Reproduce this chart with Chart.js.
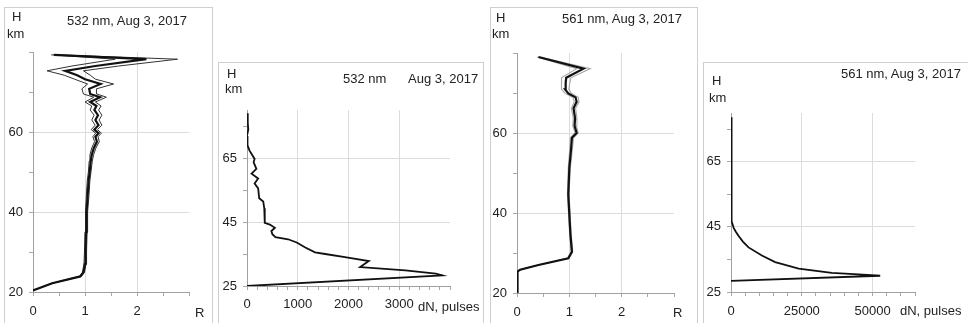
<!DOCTYPE html>
<html>
<head>
<meta charset="utf-8">
<script src="https://cdn.jsdelivr.net/npm/chart.js@4.4.1/dist/chart.umd.min.js"></script>
<style>
  html, body { margin: 0; padding: 0; background: #fff; }
  body { position: relative; width: 968px; height: 323px; overflow: hidden;
         font-family: "Liberation Sans", Arial, sans-serif; }
  .frame { position: absolute; border: 1px solid #cfcfcf; box-sizing: border-box; }
  canvas { position: absolute; }
  .lbl { position: absolute; font-size: 13px; line-height: 13px; color: #222; white-space: nowrap; }
</style>
</head>
<body>
<script>
// --- 532 nm, scattering ratio R (centre line and its two bounds) ---
const h532R   = [20.4, 22.2, 23.9, 24.9, 27, 30, 35, 40, 44, 48, 50, 52.7, 54.3, 56, 57.6, 58.8, 59.7, 60.6, 61.7, 63, 64.2, 65.5, 66.5, 67.5, 68.7, 69.5, 70.8, 72, 73.2, 74.2, 75.3, 76.5, 78.2, 79.3];
const r532    = [0, 0.37, 0.91, 0.97, 1.0, 1.01, 1.02, 1.03, 1.05, 1.07, 1.09, 1.11, 1.13, 1.17, 1.23, 1.2, 1.26, 1.18, 1.26, 1.2, 1.25, 1.18, 1.22, 1.1, 1.29, 1.1, 1.08, 1.3, 1.0, 0.85, 0.62, 1.2, 2.18, 0.4];
const r532Lo  = [0, 0.36, 0.89, 0.95, 0.98, 0.99, 1.0, 1.01, 1.025, 1.045, 1.065, 1.08, 1.095, 1.13, 1.185, 1.15, 1.205, 1.12, 1.195, 1.13, 1.175, 1.1, 1.13, 1.0, 1.17, 0.97, 0.94, 1.05, 0.8, 0.6, 0.27, 0.75, 1.58, 0.35];
const r532Hi  = [0, 0.38, 0.93, 0.99, 1.02, 1.03, 1.04, 1.05, 1.075, 1.095, 1.115, 1.14, 1.165, 1.21, 1.275, 1.25, 1.315, 1.24, 1.325, 1.27, 1.325, 1.26, 1.31, 1.2, 1.41, 1.23, 1.22, 1.55, 1.2, 1.1, 0.97, 1.65, 2.78, 0.45];

// --- 532 nm, photon counts dN ---
const h532N   = [79, 76, 73.9, 71.9, 69, 67.3, 64.7, 63.7, 61.6, 60.1, 58.6, 57, 55.5, 52.4, 51.4, 49.3, 44.7, 44.2, 43.2, 42.2, 41.2, 40.3, 39.6, 38.6, 37.1, 35.5, 35, 34, 32.8, 30.9, 29.9, 28.9, 28.3, 25];
const n532    = [0, 15, 25, 0, 10, 50, 150, 130, 185, 90, 220, 150, 220, 240, 320, 340, 350, 450, 550, 480, 500, 560, 810, 980, 1140, 1340, 1540, 1930, 2400, 2230, 3120, 3720, 3850, 0];

// --- 561 nm, scattering ratio R ---
const h561R   = [20, 25.4, 25.8, 27, 28.7, 30.3, 34.8, 44.7, 51.3, 55.5, 58.8, 60, 61.8, 63.7, 66.2, 67.8, 68.9, 69.9, 70.9, 72.5, 73.8, 76.1, 79];
const r561    = [0, 0.01, 0.06, 0.41, 0.98, 1.05, 1.02, 0.98, 1.0, 1.03, 1.05, 1.14, 1.1, 1.11, 1.08, 1.14, 1.12, 0.98, 0.92, 0.93, 0.94, 1.27, 0.41];
const r561Lo  = [0, 0.01, 0.05, 0.395, 0.965, 1.035, 1.005, 0.965, 0.98, 1.005, 1.02, 1.11, 1.065, 1.075, 1.04, 1.095, 1.07, 0.92, 0.85, 0.85, 0.85, 1.14, 0.38];
const r561Hi  = [0, 0.01, 0.07, 0.425, 0.995, 1.065, 1.035, 0.995, 1.02, 1.055, 1.08, 1.17, 1.135, 1.145, 1.12, 1.185, 1.17, 1.04, 0.99, 1.01, 1.03, 1.40, 0.44];

// --- 561 nm, photon counts dN ---
const h561N   = [78.7, 74, 69.7, 64, 58, 54.7, 50, 46.7, 44.7, 43.5, 42.2, 40.5, 38.7, 36.2, 34.2, 32.2, 30.9, 30.4, 30.0, 28.4];
const n561    = [0, 200, 350, 150, 250, 0, 150, 350, 940, 1700, 2700, 4200, 6200, 10900, 15600, 23900, 35600, 45000, 52700, 0];

// tick labels
const rTickLabels    = [0, 1, 2];
const hTickLabelsR   = [20, 40, 60];
const hTickLabelsN   = [25, 45, 65];
const n532TickLabels = [0, 1000, 2000, 3000];
const n561TickLabels = [0, 25000, 50000];

Chart.defaults.font.family = '"Liberation Sans", Arial, sans-serif';
Chart.defaults.font.size = 13;
Chart.defaults.color = '#222';

const IMG_H = 323;

function pts(xs, hs) {
  return hs.map((h, i) => ({ x: xs[i], y: h }));
}

function line(xs, hs, color, width) {
  return { data: pts(xs, hs), borderColor: color, borderWidth: width,
           showLine: true, pointRadius: 0, tension: 0, fill: false };
}

// axis with minor ticks every `step`, labels only at `labels`
function axis(min, max, step, labels, pad, fit) {
  return {
    type: 'linear', min: min, max: max,
    afterBuildTicks: s => {
      const t = [];
      for (let v = min; v <= max + 1e-9; v += step) t.push({ value: Math.round(v * 1000) / 1000 });
      s.ticks = t;
    },
    afterFit: fit,
    grid: {
      color: c => (c.tick && c.tick.value !== min && labels.includes(c.tick.value)) ? '#dcdcdc' : 'rgba(0,0,0,0)',
      tickColor: '#a8a8a8',
      tickLength: 4
    },
    border: { color: '#a0a0a0', width: 1 },
    ticks: { padding: pad, autoSkip: false, maxRotation: 0, minRotation: 0,
             callback: v => labels.includes(v) ? String(v) : '' }
  };
}

function panel(frame, plot, xAx, yAx, datasets) {
  const w = frame.r - frame.l, h = IMG_H - frame.t;
  const box = document.createElement('div');
  box.className = 'frame';
  Object.assign(box.style, { left: frame.l + 'px', top: frame.t + 'px', width: (w + 1) + 'px', height: (h + 10) + 'px' });
  document.body.appendChild(box);

  const cv = document.createElement('canvas');
  cv.width = w; cv.height = h;
  Object.assign(cv.style, { left: frame.l + 'px', top: frame.t + 'px', width: w + 'px', height: h + 'px' });
  document.body.appendChild(cv);

  xAx.afterFit = s => { s.height = IMG_H - plot.b; };
  yAx.afterFit = s => { s.width = plot.l - frame.l; };

  new Chart(cv.getContext('2d'), {
    type: 'scatter',
    data: { datasets: datasets },
    options: {
      responsive: false, animation: false, devicePixelRatio: 1,
      layout: { padding: { left: 0, top: plot.t - frame.t, right: frame.r - plot.r, bottom: 0 } },
      plugins: { legend: { display: false }, tooltip: { enabled: false } },
      scales: { x: xAx, y: yAx }
    }
  });
}

function label(text, left, top) {
  const d = document.createElement('div');
  d.className = 'lbl';
  d.textContent = text;
  d.style.left = left + 'px';
  d.style.top = top + 'px';
  document.body.appendChild(d);
}

// panel 1: 532 nm R
panel({ l: 4, t: 7, r: 212 }, { l: 33, t: 52, r: 189, b: 292 },
  axis(0, 3, 0.5, rTickLabels, 8), axis(20, 80, 10, hTickLabelsR, 6),
  [line(r532, h532R, '#111', 2.2), line(r532Lo, h532R, '#333', 1), line(r532Hi, h532R, '#333', 1)]);

// panel 2: 532 nm dN
panel({ l: 218, t: 62, r: 483 }, { l: 247, t: 110, r: 450, b: 286 },
  axis(0, 4000, 200, n532TickLabels, 7), axis(25, 80, 10, hTickLabelsN, 6),
  [line(n532, h532N, '#111', 1.8)]);

// panel 3: 561 nm R
panel({ l: 490, t: 7, r: 697 }, { l: 517, t: 53, r: 674, b: 293 },
  axis(0, 3, 0.5, rTickLabels, 8), axis(20, 80, 10, hTickLabelsR, 6),
  [line(r561, h561R, '#111', 2.2), line(r561Lo, h561R, '#a8a8a8', 1.1), line(r561Hi, h561R, '#a8a8a8', 1.1)]);

// panel 4: 561 nm dN
panel({ l: 703, t: 62, r: 972 }, { l: 731, t: 113, r: 915, b: 292 },
  axis(0, 65000, 5000, n561TickLabels, 8), axis(25, 80, 10, hTickLabelsN, 6),
  [line(n561, h561N, '#111', 1.8)]);

label('H', 12, 10);   label('km', 7, 27);   label('532 nm, Aug 3, 2017', 67, 14);  label('R', 195, 306);
label('H', 227, 67);  label('km', 225, 82); label('532 nm', 343, 72); label('Aug 3, 2017', 408, 72); label('dN, pulses', 418, 300);
label('H', 496, 11);  label('km', 492, 27); label('561 nm, Aug 3, 2017', 562, 12); label('R', 673, 306);
label('H', 712, 74);  label('km', 709, 91); label('561 nm, Aug 3, 2017', 841, 67); label('dN, pulses', 900, 304);
</script>
</body>
</html>
